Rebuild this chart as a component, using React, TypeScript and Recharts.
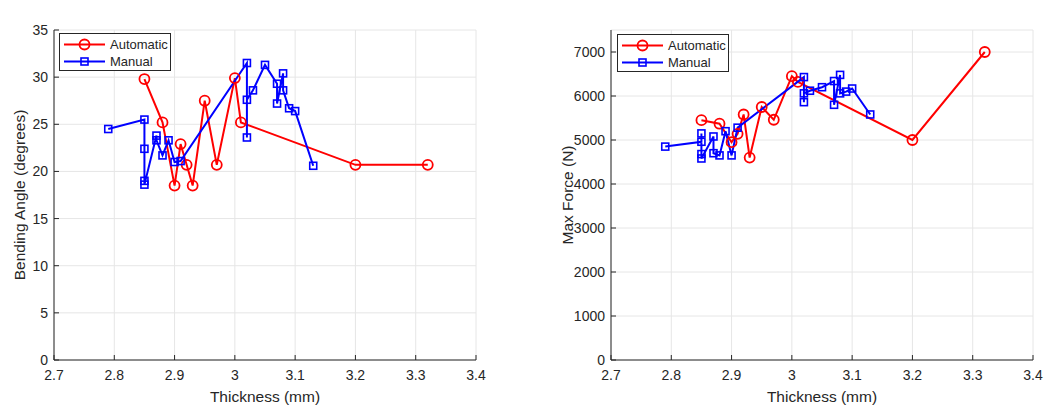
import React from 'react';
import { LineChart, Line, XAxis, YAxis, CartesianGrid } from 'recharts';

const thicknessTicks = [2.7, 2.8, 2.9, 3, 3.1, 3.2, 3.3, 3.4];
const angleTicks = [0, 5, 10, 15, 20, 25, 30, 35];
const forceTicks = [0, 1000, 2000, 3000, 4000, 5000, 6000, 7000];

const autoThickness = [2.85, 2.88, 2.9, 2.91, 2.92, 2.93, 2.95, 2.97, 3.0, 3.01, 3.2, 3.32];
const autoAngle = [29.8, 25.2, 18.5, 22.9, 20.7, 18.5, 27.5, 20.7, 29.9, 25.2, 20.7, 20.7];
const autoForce = [5450, 5370, 4950, 5140, 5580, 4600, 5750, 5460, 6450, 6320, 5000, 7000];

const manualThickness = [2.79, 2.85, 2.85, 2.85, 2.85, 2.87, 2.87, 2.88, 2.89, 2.9, 2.91, 3.02, 3.02, 3.02, 3.03, 3.05, 3.07, 3.07, 3.08, 3.08, 3.09, 3.1, 3.13];
const manualAngle = [24.5, 25.5, 22.4, 19.0, 18.6, 23.8, 23.3, 21.7, 23.3, 21.0, 21.1, 31.5, 23.6, 27.6, 28.6, 31.3, 29.3, 27.2, 30.4, 28.6, 26.7, 26.4, 20.6];
const manualForce = [4850, 4960, 5150, 4680, 4580, 5080, 4700, 4650, 5200, 4650, 5280, 6430, 5860, 6060, 6120, 6200, 6340, 5800, 6480, 6060, 6100, 6170, 5580];

const seriesNames = ['Automatic', 'Manual'];

const FONT = '"Liberation Sans", Arial, Helvetica, sans-serif';
const TXT = '#262626';
const RED = '#ff0000';
const BLUE = '#0000ff';

const zip = (xs: number[], ys: number[]) => xs.map((x, i) => ({ x, y: ys[i] }));

const CircleDot = (props: any) => {
  const { cx, cy, index } = props;
  if (cx == null || cy == null) return <g key={`c${index}`} />;
  return <circle key={`c${index}`} cx={cx} cy={cy} r={5} fill="none" stroke={RED} strokeWidth={1.8} />;
};

const SquareDot = (props: any) => {
  const { cx, cy, index } = props;
  if (cx == null || cy == null) return <g key={`s${index}`} />;
  return <rect key={`s${index}`} x={cx - 3.5} y={cy - 3.5} width={7} height={7} fill="none" stroke={BLUE} strokeWidth={1.6} />;
};

function LegendBox({ left, top }: { left: number; top: number }) {
  const row = (i: number) => (
    <div key={i} style={{ position: 'absolute', left: 0, top: 2 + i * 17, height: 17, width: 110 }}>
      <svg width={48} height={17} style={{ position: 'absolute', left: 0, top: 0 }}>
        <line x1={4} y1={8.5} x2={45} y2={8.5} stroke={i === 0 ? RED : BLUE} strokeWidth={2} />
        {i === 0 ? (
          <circle cx={24.5} cy={8.5} r={5} fill="none" stroke={RED} strokeWidth={1.8} />
        ) : (
          <rect x={21} y={5} width={7} height={7} fill="none" stroke={BLUE} strokeWidth={1.6} />
        )}
      </svg>
      <span style={{ position: 'absolute', left: 50, top: 0, lineHeight: '17px', fontSize: 13, fontFamily: FONT, color: TXT, whiteSpace: 'nowrap' }}>
        {seriesNames[i]}
      </span>
    </div>
  );
  return (
    <div style={{ position: 'absolute', left, top, width: 112, height: 38, boxSizing: 'border-box', border: '1px solid #262626', background: '#fff', zIndex: 2 }}>
      {row(0)}
      {row(1)}
    </div>
  );
}

type PanelProps = {
  left: number;
  width: number;
  marginRight: number;
  yAxisWidth: number;
  title: string;
  yLabel: string;
  yLabelX: number;
  yTicks: number[];
  yMax: number;
  autoY: number[];
  manualY: number[];
  legendLeft: number;
  legendTop: number;
};

function Panel(p: PanelProps) {
  const axisStroke = '#262626';
  const tickStyle = { fill: TXT, fontSize: 14, fontFamily: FONT };
  return (
    <div style={{ position: 'absolute', left: p.left, top: 0, width: p.width, height: 409 }}>
      <LineChart width={p.width} height={409} margin={{ top: 30, right: p.marginRight, bottom: 0, left: 0 }}>
        <CartesianGrid stroke="#e6e6e6" strokeWidth={1} />
        <XAxis
          type="number"
          dataKey="x"
          domain={[2.7, 3.4]}
          ticks={thicknessTicks}
          interval={0}
          allowDataOverflow
          height={49}
          tickSize={-5}
          tickMargin={15}
          axisLine={{ stroke: axisStroke }}
          tickLine={{ stroke: axisStroke }}
          tick={tickStyle}
          label={{
            content: (lp: any) => {
              const vb = lp.viewBox || {};
              return (
                <text x={vb.x + vb.width / 2} y={396} textAnchor="middle" dominantBaseline="central" fill={TXT} fontSize={15.5} fontFamily={FONT}>
                  Thickness (mm)
                </text>
              );
            },
          }}
        />
        <XAxis
          xAxisId="t"
          orientation="top"
          type="number"
          domain={[2.7, 3.4]}
          ticks={thicknessTicks}
          interval={0}
          allowDataOverflow
          height={0}
          tickSize={-5}
          tick={false}
          axisLine={{ stroke: axisStroke }}
          tickLine={{ stroke: axisStroke }}
          label={{
            content: (lp: any) => {
              const vb = lp.viewBox || {};
              return (
                <text x={vb.x + vb.width / 2} y={18} textAnchor="middle" dominantBaseline="central" fill="#000" fontSize={14.5} fontWeight="bold" fontFamily={FONT}>
                  {p.title}
                </text>
              );
            },
          }}
        />
        <YAxis
          type="number"
          domain={[0, p.yMax]}
          ticks={p.yTicks}
          interval={0}
          allowDataOverflow
          width={p.yAxisWidth}
          tickSize={-5}
          tickMargin={11}
          axisLine={{ stroke: axisStroke }}
          tickLine={{ stroke: axisStroke }}
          tick={tickStyle}
          label={{
            content: (lp: any) => {
              const vb = lp.viewBox || {};
              const cy = vb.y + vb.height / 2;
              return (
                <text x={p.yLabelX} y={cy} transform={`rotate(-90 ${p.yLabelX} ${cy})`} textAnchor="middle" dominantBaseline="central" fill={TXT} fontSize={15.5} fontFamily={FONT}>
                  {p.yLabel}
                </text>
              );
            },
          }}
        />
        <YAxis
          yAxisId="r"
          orientation="right"
          type="number"
          domain={[0, p.yMax]}
          ticks={p.yTicks}
          interval={0}
          allowDataOverflow
          width={0}
          tickSize={-5}
          tick={false}
          axisLine={{ stroke: axisStroke }}
          tickLine={{ stroke: axisStroke }}
        />
        <Line
          data={zip(autoThickness, p.autoY)}
          dataKey="y"
          name={seriesNames[0]}
          stroke={RED}
          strokeWidth={2}
          dot={CircleDot}
          activeDot={false}
          isAnimationActive={false}
        />
        <Line
          data={zip(manualThickness, p.manualY)}
          dataKey="y"
          name={seriesNames[1]}
          stroke={BLUE}
          strokeWidth={2}
          dot={SquareDot}
          activeDot={false}
          isAnimationActive={false}
        />
      </LineChart>
      <LegendBox left={p.legendLeft} top={p.legendTop} />
    </div>
  );
}

export default function App() {
  return (
    <div style={{ position: 'absolute', left: 0, top: 0, width: 1049, height: 409, background: '#fff', overflow: 'hidden' }}>
      <Panel
        left={0}
        width={524}
        marginRight={48}
        yAxisWidth={54}
        title="Bending Angle vs Thickness"
        yLabel="Bending Angle (degrees)"
        yLabelX={19}
        yTicks={angleTicks}
        yMax={35}
        autoY={autoAngle}
        manualY={manualAngle}
        legendLeft={59}
        legendTop={33}
      />
      <Panel
        left={524}
        width={525}
        marginRight={16}
        yAxisWidth={87}
        title="Max Force vs Thickness"
        yLabel="Max Force (N)"
        yLabelX={43}
        yTicks={forceTicks}
        yMax={7500}
        autoY={autoForce}
        manualY={manualForce}
        legendLeft={93}
        legendTop={34}
      />
    </div>
  );
}
